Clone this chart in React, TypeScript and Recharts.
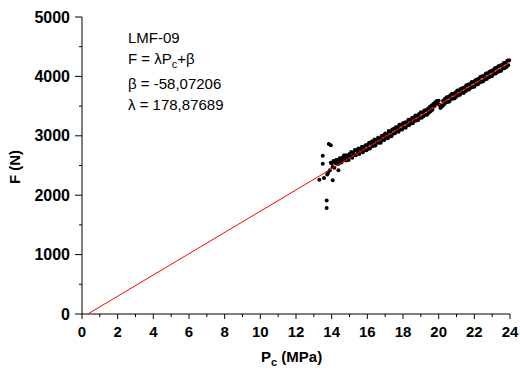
import { ScatterChart, Scatter, XAxis, YAxis } from "recharts";

// [Pc (MPa), F (N)]
const outliers: [number, number][] = [
  [13.31, 2260], [13.57, 2290], [13.72, 1910], [13.72, 1785], [13.5, 2665],
  [13.5, 2530], [13.84, 2860], [13.95, 2840], [14.06, 2250], [13.95, 2545],
  [14.38, 2420], [13.8, 2380], [13.9, 2420], [13.75, 2350],
];

const measured: [number, number][] = [
  [14.0, 2536], [14.05, 2475], [14.1, 2574], [14.15, 2463], [14.2, 2542], [14.25, 2591],
  [14.3, 2530], [14.35, 2594], [14.4, 2528], [14.45, 2622], [14.5, 2581], [14.55, 2550],
  [14.6, 2634], [14.65, 2593], [14.7, 2671], [14.75, 2630], [14.8, 2584], [14.85, 2673],
  [14.9, 2642], [14.95, 2591], [15.0, 2695], [15.05, 2654], [15.1, 2728], [15.15, 2632],
  [15.2, 2716], [15.25, 2685], [15.3, 2759], [15.35, 2673], [15.4, 2757], [15.45, 2731],
  [15.5, 2785], [15.55, 2694], [15.6, 2783], [15.65, 2752], [15.7, 2816], [15.75, 2725],
  [15.8, 2813], [15.85, 2767], [15.9, 2841], [15.95, 2755], [16.0, 2844], [16.05, 2783],
  [16.1, 2882], [16.15, 2786], [16.2, 2865], [16.25, 2904], [16.3, 2823], [16.35, 2882],
  [16.4, 2936], [16.45, 2835], [16.5, 2929], [16.55, 2883], [16.6, 2967], [16.65, 2881],
  [16.7, 2949], [16.75, 2883], [16.8, 2997], [16.85, 2931], [16.9, 3005], [16.95, 2929],
  [17.0, 3038], [17.05, 2972], [17.1, 3036], [17.15, 2960], [17.2, 3079], [17.25, 2993],
  [17.3, 3062], [17.35, 2991], [17.4, 3105], [17.45, 3034], [17.5, 3117], [17.55, 3041],
  [17.6, 3145], [17.65, 3079], [17.7, 3143], [17.75, 3067], [17.8, 3186], [17.85, 3105],
  [17.9, 3184], [17.95, 3108], [18.0, 3212], [18.05, 3146], [18.1, 3225], [18.15, 3134],
  [18.2, 3228], [18.25, 3172], [18.3, 3271], [18.35, 3180], [18.4, 3258], [18.45, 3212],
  [18.5, 3301], [18.55, 3210], [18.6, 3309], [18.65, 3253], [18.7, 3342], [18.75, 3256],
  [18.8, 3335], [18.85, 3264], [18.9, 3368], [18.95, 3302], [19.0, 3396], [19.05, 3305],
  [19.1, 3394], [19.15, 3328], [19.2, 3426], [19.25, 3355], [19.3, 3434], [19.35, 3353],
  [19.4, 3457], [19.45, 3386], [19.5, 3485], [19.55, 3414], [19.6, 3508], [19.65, 3437],
  [19.7, 3536], [19.75, 3495], [19.8, 3564], [19.85, 3538], [19.9, 3587], [19.95, 3541],
  [20.0, 3590], [20.05, 3519], [20.1, 3468], [20.15, 3507], [20.2, 3496], [20.25, 3590],
  [20.3, 3529], [20.35, 3623], [20.4, 3561], [20.45, 3650], [20.5, 3569], [20.55, 3653],
  [20.6, 3577], [20.65, 3681], [20.7, 3620], [20.75, 3709], [20.8, 3623], [20.85, 3702],
  [20.9, 3631], [20.95, 3735], [21.0, 3663], [21.05, 3762], [21.1, 3686], [21.15, 3765],
  [21.2, 3689], [21.25, 3793], [21.3, 3727], [21.35, 3806], [21.4, 3720], [21.45, 3814],
  [21.5, 3748], [21.55, 3852], [21.6, 3776], [21.65, 3860], [21.7, 3779], [21.75, 3873],
  [21.8, 3807], [21.85, 3906], [21.9, 3820], [21.95, 3904], [22.0, 3827], [22.05, 3936],
  [22.1, 3865], [22.15, 3949], [22.2, 3868], [22.25, 3962], [22.3, 3896], [22.35, 3995],
  [22.4, 3909], [22.45, 4003], [22.5, 3917], [22.55, 4011], [22.6, 3955], [22.65, 4049],
  [22.7, 3957], [22.75, 4051], [22.8, 3985], [22.85, 4079], [22.9, 3998], [22.95, 4092],
  [23.0, 4006], [23.05, 4105], [23.1, 4044], [23.15, 4138], [23.2, 4047], [23.25, 4146],
  [23.3, 4075], [23.35, 4169], [23.4, 4088], [23.45, 4182], [23.5, 4095], [23.55, 4194],
  [23.6, 4133], [23.65, 4227], [23.7, 4136], [23.75, 4230], [23.8, 4159], [23.85, 4263],
  [23.9, 4187], [23.95, 4271],
];

// linear fit F = λ·Pc + β
const fitPc = [0, 24];
const fitF = [-58.07, 4234.98];

const xTicks = [0, 1, 2, 3, 4, 5, 6, 7, 8, 9, 10, 11, 12, 13, 14, 15, 16, 17, 18, 19, 20, 21, 22, 23, 24];
const yTicks = [0, 500, 1000, 1500, 2000, 2500, 3000, 3500, 4000, 4500, 5000];

const points = [...outliers, ...measured].map(([pc, f]) => ({ pc, f }));
const fitLine = fitPc.map((pc, i) => ({ pc, f: fitF[i] }));

const FONT = "'Liberation Sans', Arial, sans-serif";

function XTick({ x, y, payload }: any) {
  const major = payload.value % 2 === 0;
  return (
    <g>
      <line x1={x} x2={x} y1={y} y2={y + (major ? 5 : 3)} stroke="#000" />
      {major && (
        <text x={x} y={y + 23} textAnchor="middle" fontSize={15} fontWeight="bold" fontFamily={FONT} fill="#000">
          {payload.value}
        </text>
      )}
    </g>
  );
}

function YTick({ x, y, payload }: any) {
  const major = payload.value % 1000 === 0;
  return (
    <g>
      <line x1={x - (major ? 7 : 3)} x2={x} y1={y} y2={y} stroke="#000" />
      {major && (
        <text x={x - 12} y={y + 5.5} textAnchor="end" fontSize={16} fontWeight="bold" fontFamily={FONT} fill="#000">
          {payload.value}
        </text>
      )}
    </g>
  );
}

const Dot = (p: any) => <circle cx={p.cx} cy={p.cy} r={2} fill="#000" />;
const NoDot = () => <g />;

export default function App() {
  return (
    <div style={{ position: "absolute", left: 0, top: 0, width: 520, height: 374, background: "#fff" }}>
      <ScatterChart width={520} height={374} margin={{ top: 17, right: 10, bottom: 0, left: 0 }}>
        <XAxis
          type="number" dataKey="pc" domain={[0, 24]} ticks={xTicks} interval={0}
          tickSize={0} tickMargin={0} tickLine={false} tick={<XTick />}
          axisLine={{ stroke: "#000" }} height={60}
        />
        <YAxis
          type="number" dataKey="f" domain={[0, 5000]} ticks={yTicks} interval={0} allowDataOverflow
          tickSize={0} tickMargin={0} tickLine={false} tick={<YTick />}
          axisLine={{ stroke: "#000" }} width={82}
        />
        <Scatter data={points} shape={Dot} isAnimationActive={false} />
        <Scatter data={fitLine} shape={NoDot} line={{ stroke: "#ff0000", strokeWidth: 1 }} isAnimationActive={false} />
      </ScatterChart>
      <svg width={520} height={374} style={{ position: "absolute", left: 0, top: 0, pointerEvents: "none" }}>
        <g fontFamily={FONT} fontSize={15} fill="#000">
          <text x={128} y={43}>LMF-09</text>
          <text x={128} y={64}>
            F = λP<tspan fontSize={11} dy={4}>c</tspan><tspan dy={-4}>+β</tspan>
          </text>
          <text x={128} y={89}>β = -58,07206</text>
          <text x={128} y={110}>λ = 178,87689</text>
        </g>
        <text x={261} y={362} fontFamily={FONT} fontSize={15} fontWeight="bold" fill="#000">
          P<tspan fontSize={11} dy={4}>c</tspan><tspan dy={-4}> (MPa)</tspan>
        </text>
        <text
          x={14} y={167} transform="rotate(-90 14 167)" textAnchor="middle" dominantBaseline="central"
          fontFamily={FONT} fontSize={15} fontWeight="bold" fill="#000"
        >
          F (N)
        </text>
      </svg>
    </div>
  );
}
